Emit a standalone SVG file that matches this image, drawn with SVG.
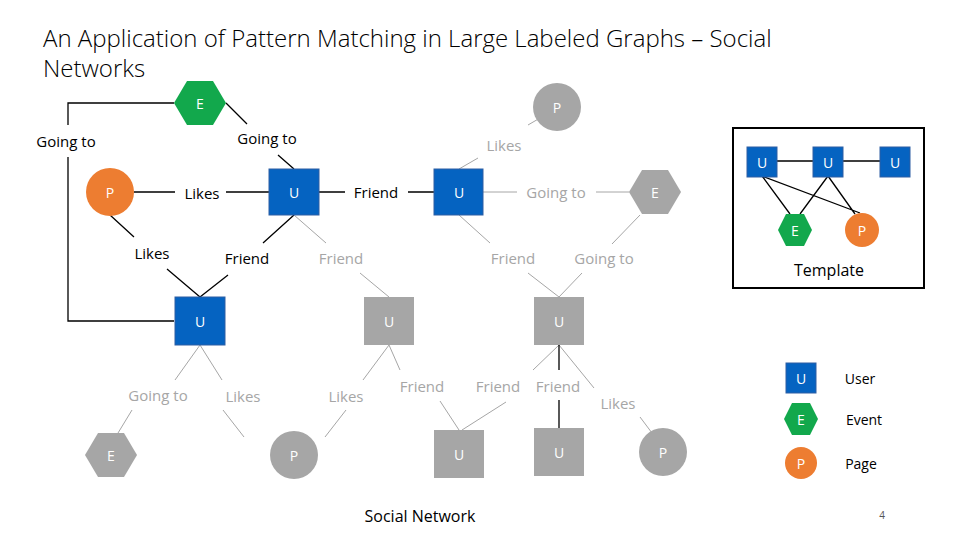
<svg xmlns="http://www.w3.org/2000/svg" width="960" height="540" viewBox="0 0 960 540">
<style>
text{font-family:"Open Sans","Liberation Sans",sans-serif;text-anchor:middle;dominant-baseline:central}
.lb{font-size:15px;fill:#000}
.lg{font-size:15px;fill:#a6a6a6}
.nt{font-size:14px;fill:#fff}
.b{stroke:#000;stroke-width:1.3;fill:none}
.g{stroke:#a6a6a6;stroke-width:1;fill:none}
.ub{fill:#0563c1;stroke:#2e5fa3;stroke-width:1}
.gr{fill:#a6a6a6}
.eg{fill:#12a84c}
.po{fill:#ed7d31}
</style>
<rect width="960" height="540" fill="#fff"/>
<text x="43" y="37" style="font-size:24px;text-anchor:start;font-weight:300" fill="#000">An Application of Pattern Matching in Large Labeled Graphs – Social</text>
<text x="43" y="67" style="font-size:24px;text-anchor:start;font-weight:300" fill="#000">Networks</text>
<g id="connectors">
<path class="b" d="M174 103H68V125M68 157V321H174"/>
<path class="b" d="M226 103L247 124M278 155L294 169"/>
<path class="b" d="M134 192H175M226 192H269"/>
<path class="b" d="M319 192H345M408 192H434"/>
<path class="b" d="M110 215L134 237M167 269L200 297"/>
<path class="b" d="M294 215L263 243M228 275L200 297"/>
<path class="g" d="M294 215L326 243M360 273L389 297"/>
<path class="g" d="M459 169L478 158M528 125L540 118"/>
<path class="g" d="M483 192H517M596 192H629"/>
<path class="g" d="M459 215L490 243M528 273L559 297"/>
<path class="g" d="M640 215L612 244M582 273L559 297"/>
<path class="g" d="M200 345L175 380M200 345L222 380M132 410L118 433M223 410L244 437"/>
<path class="g" d="M389 345L363 380M389 345L400 370M346 410L325 437M440 401L459 430"/>
<path class="g" d="M559 345L533 370M506 402L462 430M559 345L594 388M640 417L655 437"/>
<path class="b" d="M559 345V370M559 400V428"/>
<path class="b" d="M777 161H813M843 161H880M762 176L790 214M762 176L860 213M828 176L800 214M828 176L855 214"/>
</g>
<g id="n-e1"><polygon class="eg" points="174,103 187,81 213,81 226,103 213,125 187,125"/><text class="nt" x="200" y="103">E</text></g>
<g id="n-p1"><circle class="gr" cx="557" cy="107" r="24"/><text class="nt" x="557" y="107">P</text></g>
<g id="n-p2"><circle class="po" cx="110" cy="192" r="24"/><text class="nt" x="110" y="192">P</text></g>
<g id="n-u1"><rect class="ub" x="269" y="169" width="50" height="46"/><text class="nt" x="294" y="192">U</text></g>
<g id="n-u2"><rect class="ub" x="434" y="169" width="49" height="46"/><text class="nt" x="459" y="192">U</text></g>
<g id="n-e2"><polygon class="gr" points="629,192 642,170 668,170 681,192 668,214 642,214"/><text class="nt" x="655" y="192">E</text></g>
<g id="n-u3"><rect class="ub" x="175" y="297" width="50" height="48"/><text class="nt" x="200" y="321">U</text></g>
<g id="n-u4"><rect class="gr" x="364" y="297" width="50" height="48"/><text class="nt" x="389" y="321">U</text></g>
<g id="n-u5"><rect class="gr" x="534" y="297" width="50" height="48"/><text class="nt" x="559" y="321">U</text></g>
<g id="n-e3"><polygon class="gr" points="85,455 98,433 124,433 137,455 124,477 98,477"/><text class="nt" x="111" y="455">E</text></g>
<g id="n-p3"><circle class="gr" cx="294" cy="455" r="24"/><text class="nt" x="294" y="455">P</text></g>
<g id="n-u6"><rect class="gr" x="434" y="430" width="50" height="48"/><text class="nt" x="459" y="454">U</text></g>
<g id="n-u7"><rect class="gr" x="534" y="428" width="50" height="48"/><text class="nt" x="559" y="452">U</text></g>
<g id="n-p4"><circle class="gr" cx="663" cy="452" r="24"/><text class="nt" x="663" y="452">P</text></g>
<g id="labels">
<text class="lb" x="66" y="141">Going to</text>
<text class="lb" x="267" y="138">Going to</text>
<text class="lg" x="504" y="145">Likes</text>
<text class="lb" x="202" y="193">Likes</text>
<text class="lb" x="376" y="192">Friend</text>
<text class="lg" x="556" y="192">Going to</text>
<text class="lb" x="152" y="253">Likes</text>
<text class="lb" x="247" y="258">Friend</text>
<text class="lg" x="341" y="258">Friend</text>
<text class="lg" x="513" y="258">Friend</text>
<text class="lg" x="604" y="258">Going to</text>
<text class="lg" x="158" y="395">Going to</text>
<text class="lg" x="243" y="396">Likes</text>
<text class="lg" x="346" y="396">Likes</text>
<text class="lg" x="422" y="386">Friend</text>
<text class="lg" x="498" y="386">Friend</text>
<text class="lg" x="558" y="386">Friend</text>
<text class="lg" x="618" y="403">Likes</text>
<text class="lb" x="420" y="516" style="font-size:16px">Social Network</text>
</g>
<g id="template">
<rect x="733" y="128" width="191" height="160" fill="none" stroke="#000" stroke-width="2"/>
<g id="t-u1"><rect class="ub" x="747" y="147" width="30" height="30"/><text class="nt" x="762" y="162">U</text></g>
<g id="t-u2"><rect class="ub" x="813" y="147" width="30" height="30"/><text class="nt" x="828" y="162">U</text></g>
<g id="t-u3"><rect class="ub" x="880" y="147" width="30" height="30"/><text class="nt" x="895" y="162">U</text></g>
<g id="t-e"><polygon class="eg" points="778,230 786,214 804,214 812,230 804,246 786,246"/><text class="nt" x="795" y="230">E</text></g>
<g id="t-p"><circle class="po" cx="862" cy="230" r="17"/><text class="nt" x="862" y="230">P</text></g>
<text class="lb" x="829" y="270" style="font-size:16px">Template</text>
</g>
<g id="legend">
<g id="l-u"><rect class="ub" x="786" y="363" width="30" height="30"/><text class="nt" x="801" y="378">U</text><text class="lb" x="860" y="378" style="font-size:14px">User</text></g>
<g id="l-e"><polygon class="eg" points="784,419 792,403 810,403 818,419 810,435 792,435"/><text class="nt" x="801" y="419">E</text><text class="lb" x="864" y="419" style="font-size:14px">Event</text></g>
<g id="l-p"><circle class="po" cx="801" cy="463" r="16"/><text class="nt" x="801" y="463">P</text><text class="lb" x="861" y="463" style="font-size:14px">Page</text></g>
</g>
<text x="882" y="515" style="font-size:10px" fill="#555">4</text>
</svg>
